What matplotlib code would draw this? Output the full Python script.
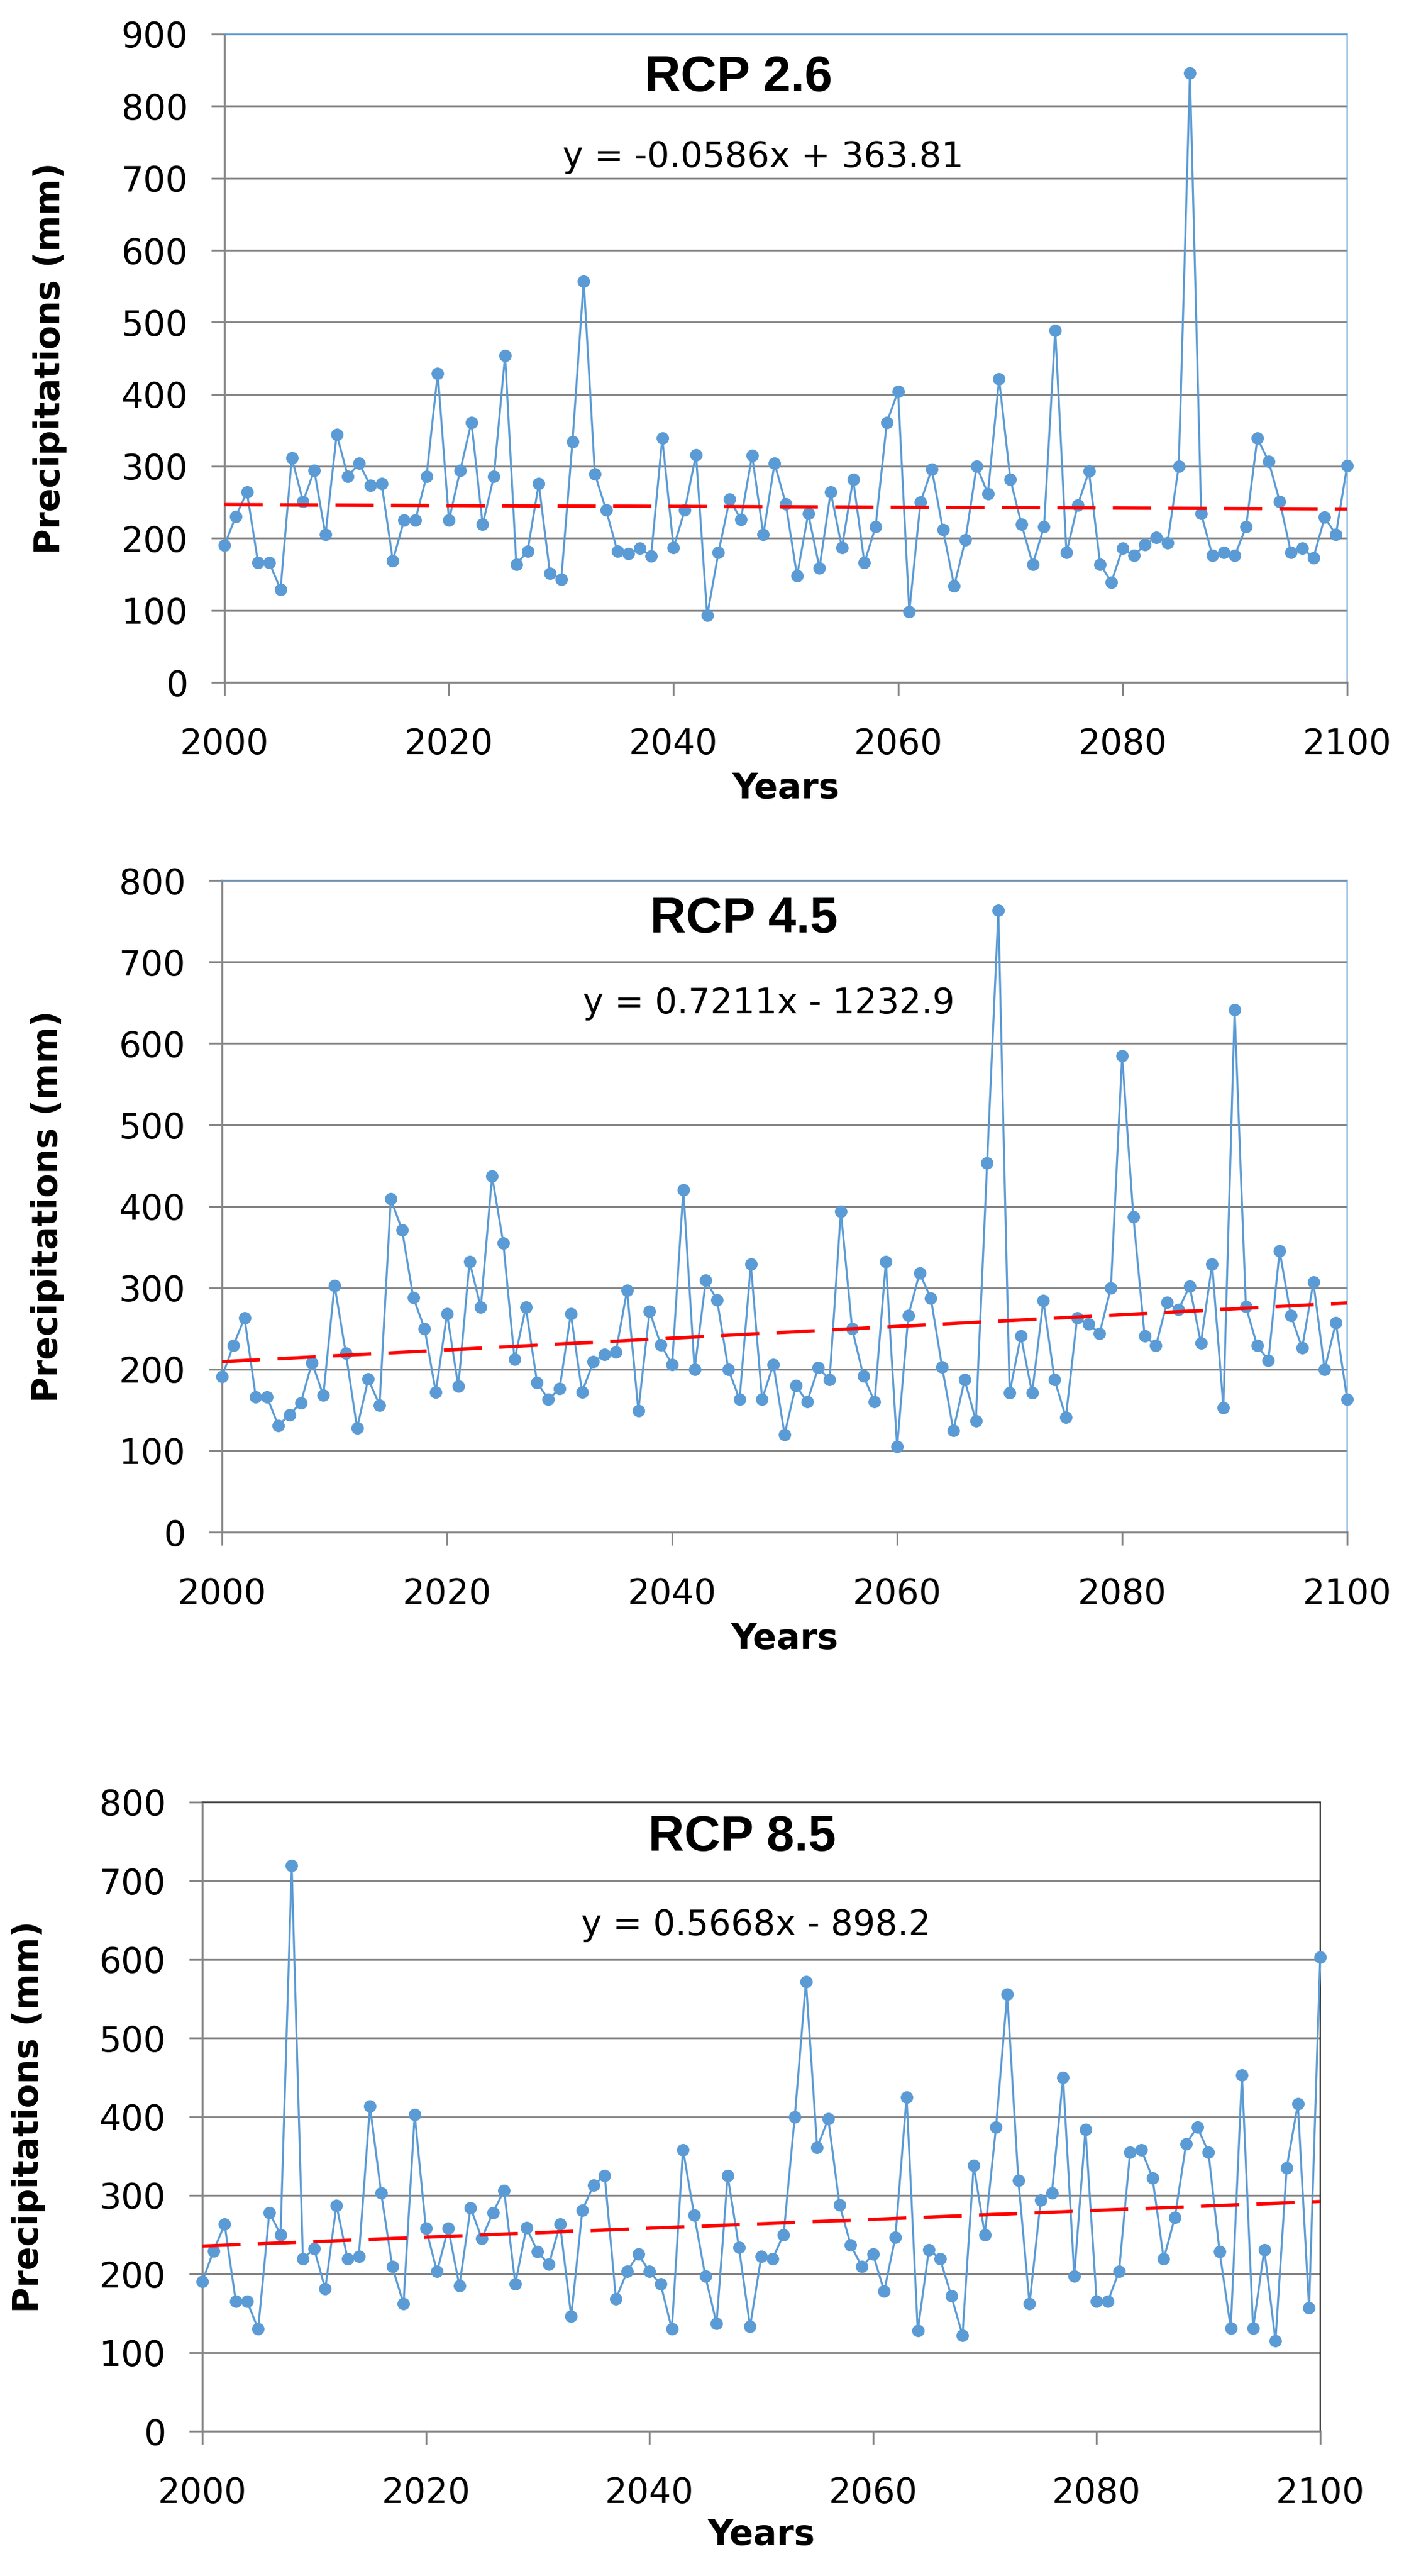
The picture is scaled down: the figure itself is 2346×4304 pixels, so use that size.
import numpy as np
import matplotlib.pyplot as plt

years = np.arange(2000, 2101)

rcp26 = [190, 230, 264, 166, 166, 129, 312, 251, 294, 205,
         344, 286, 304, 273, 276, 169, 225, 225, 286, 429,
         225, 294, 361, 219, 286, 454, 164, 182, 276, 151,
         143, 334, 557, 289, 239, 182, 179, 186, 175, 339,
         187, 239, 316, 93, 180, 254, 226, 315, 205, 304,
         248, 148, 234, 159, 264, 187, 282, 166, 216, 361,
         404, 98, 250, 296, 212, 134, 198, 300, 262, 421,
         282, 219, 164, 216, 489, 180, 246, 293, 164, 139,
         186, 176, 191, 201, 194, 300, 846, 234, 176, 180,
         176, 216, 339, 307, 251, 180, 186, 173, 229, 205,
         301]

rcp45 = [191, 229, 263, 166, 166, 131, 144, 159, 208, 168,
         303, 220, 128, 188, 156, 409, 371, 288, 250, 172,
         268, 179, 332, 276, 437, 355, 212, 276, 184, 163,
         176, 268, 172, 209, 218, 221, 297, 149, 271, 230,
         206, 420, 200, 309, 285, 200, 163, 329, 163, 206,
         120, 180, 160, 202, 187, 394, 250, 192, 160, 332,
         105, 266, 318, 287, 203, 125, 187, 137, 453, 763,
         171, 241, 171, 284, 187, 141, 263, 256, 244, 300,
         585, 387, 241, 229, 282, 273, 302, 232, 329, 153,
         641, 277, 229, 211, 345, 266, 226, 307, 200, 257,
         163]

rcp85 = [190, 229, 263, 165, 165, 130, 278, 250, 719, 219,
         232, 181, 287, 219, 222, 413, 303, 209, 162, 403,
         258, 203, 258, 185, 284, 245, 278, 306, 187, 259,
         228, 212, 263, 146, 281, 313, 325, 168, 203, 225,
         203, 187, 130, 358, 275, 197, 137, 325, 234, 133,
         222, 219, 250, 400, 572, 361, 397, 288, 237, 209,
         225, 178, 247, 425, 128, 231, 219, 172, 122, 338,
         250, 387, 556, 319, 162, 294, 303, 450, 197, 384,
         165, 165, 203, 355, 358, 322, 219, 272, 365, 387,
         355, 228, 131, 453, 131, 231, 115, 335, 416, 157,
         603]

titles = ['RCP 2.6', 'RCP 4.5', 'RCP 8.5']
slopes = [-0.0586, 0.7211, 0.5668]
intercepts = [363.81, -1232.9, -898.2]
equations = ['y = -0.0586x + 363.81', 'y = 0.7211x - 1232.9', 'y = 0.5668x - 898.2']
ymax = [900, 800, 800]

W, H = 2346, 4304
# axes boxes in pixels: left, right, top, bottom
boxes = [(375, 2251, 57, 1140), (371, 2251, 1471, 2560), (338, 2206, 3011, 4062)]
title_pos = [(0.458, 0.933), (0.464, 0.940), (0.483, 0.944)]
eq_pos = [(0.480, 0.810), (0.486, 0.811), (0.495, 0.804)]
frame_col = ['#5B9BD5', '#5B9BD5', 'black']

GRID = '#878787'
BLUE = '#5B9BD5'

fig = plt.figure(figsize=(W / 100, H / 100), dpi=100)

for i, series in enumerate([rcp26, rcp45, rcp85]):
    l, r, t, b = boxes[i]
    ax = fig.add_axes([l / W, 1 - b / H, (r - l) / W, (b - t) / H])

    ax.plot(years, series, color=BLUE, lw=2.4, marker='o', ms=14,
            zorder=3, clip_on=False)
    xt = np.array([2000, 2100])
    ax.plot(xt, slopes[i] * xt + intercepts[i], color='#FF0000', lw=4,
            dashes=(11.5, 5.2), zorder=4)

    ax.set_xlim(2000, 2100)
    ax.set_ylim(0, ymax[i])
    ax.set_xticks(range(2000, 2101, 20))
    ax.set_yticks(range(0, ymax[i] + 1, 100))
    ax.grid(axis='y', color=GRID, lw=2.2)
    ax.set_axisbelow(True)

    for s in ['left', 'bottom']:
        ax.spines[s].set_color(GRID)
        ax.spines[s].set_linewidth(2.4)
    for s in ['top', 'right']:
        ax.spines[s].set_color(frame_col[i])
        ax.spines[s].set_linewidth(1.6)

    ax.tick_params(direction='out', length=16, width=2.2, color=GRID,
                   labelsize=42)
    ax.tick_params(axis='x', pad=38)
    ax.tick_params(axis='y', pad=28)

    ax.set_xlabel('Years', fontsize=42, fontweight='bold')
    ax.set_ylabel('Precipitations (mm)', fontsize=42, fontweight='bold')
    ax.xaxis.set_label_coords(0.5, -0.138)
    ax.yaxis.set_label_coords(-0.14, 0.5)

    ax.text(*title_pos[i], titles[i], transform=ax.transAxes, ha='center',
            va='center', fontsize=60, fontweight='bold',
            family='Liberation Sans')
    ax.text(*eq_pos[i], equations[i], transform=ax.transAxes, ha='center',
            va='center', fontsize=42)

fig.savefig('out.png', dpi=100)
